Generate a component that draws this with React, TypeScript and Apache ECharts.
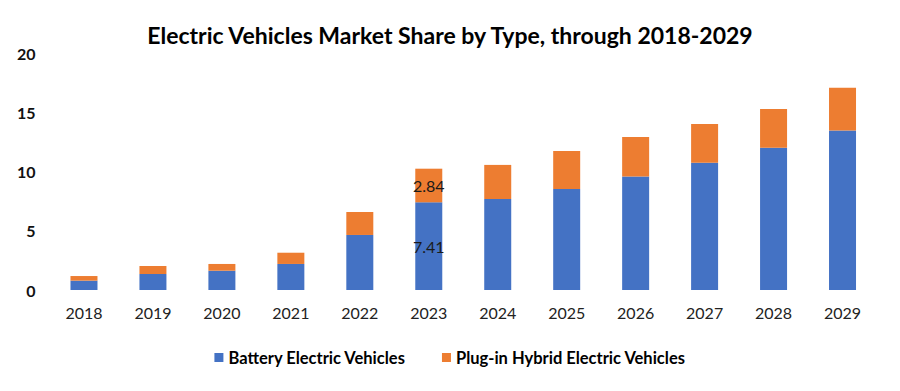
import React, { useEffect, useRef } from "react";
import * as echarts from "echarts";

const years = ["2018", "2019", "2020", "2021", "2022", "2023", "2024", "2025", "2026", "2027", "2028", "2029"];
const bev = [0.79, 1.35, 1.63, 2.2, 4.65, 7.41, 7.69, 8.54, 9.58, 10.76, 12.03, 13.47];
const phev = [0.39, 0.68, 0.57, 0.95, 1.94, 2.84, 2.88, 3.21, 3.35, 3.27, 3.27, 3.61];
const labelledYear = "2023";

export default function App() {
  const ref = useRef<HTMLDivElement>(null);
  useEffect(() => {
    if (!ref.current) return;
    const chart = echarts.init(ref.current, undefined, { renderer: "svg" });
    const li = years.indexOf(labelledYear);
    const lbl = { show: true, position: "inside", color: "#1a1a1a", fontSize: 16, fontFamily: "Lato" };
    chart.setOption({
      animation: false,
      textStyle: { fontFamily: "Lato" },
      title: {
        text: "Electric Vehicles Market Share by Type, through 2018-2029",
        left: "center",
        top: 10,
        textStyle: { fontFamily: "Lato", fontWeight: "bold", fontSize: 23, color: "#000" },
      },
      legend: {
        bottom: 12,
        left: "center",
        itemWidth: 9,
        itemHeight: 9,
        itemGap: 36,
        icon: "rect",
        textStyle: { fontFamily: "Lato", fontWeight: "bold", fontSize: 16.5, color: "#000" },
        data: ["Battery Electric Vehicles", "Plug-in Hybrid Electric Vehicles"],
      },
      grid: { left: 41.5, right: 15, top: 45.3, bottom: 93 },
      xAxis: {
        type: "category",
        data: years,
        axisLine: { show: false },
        axisTick: { show: false },
        axisLabel: { fontSize: 16, color: "#222", margin: 14 },
      },
      yAxis: {
        type: "value",
        min: 0,
        max: 20,
        interval: 5,
        splitLine: { show: false },
        axisLabel: { fontSize: 16, fontWeight: "bold", color: "#111", margin: 14 },
      },
      series: [
        {
          name: "Battery Electric Vehicles",
          type: "bar",
          stack: "t",
          barWidth: 27,
          itemStyle: { color: "#4472C4" },
          data: bev.map((v, i) => ({ value: v, label: { ...lbl, show: i === li } })),
        },
        {
          name: "Plug-in Hybrid Electric Vehicles",
          type: "bar",
          stack: "t",
          barWidth: 27,
          itemStyle: { color: "#ED7D31" },
          data: phev.map((v, i) => ({ value: v, label: { ...lbl, show: i === li } })),
        },
      ],
    });
    return () => chart.dispose();
  }, []);
  return <div ref={ref} style={{ width: 884, height: 375 }} />;
}
